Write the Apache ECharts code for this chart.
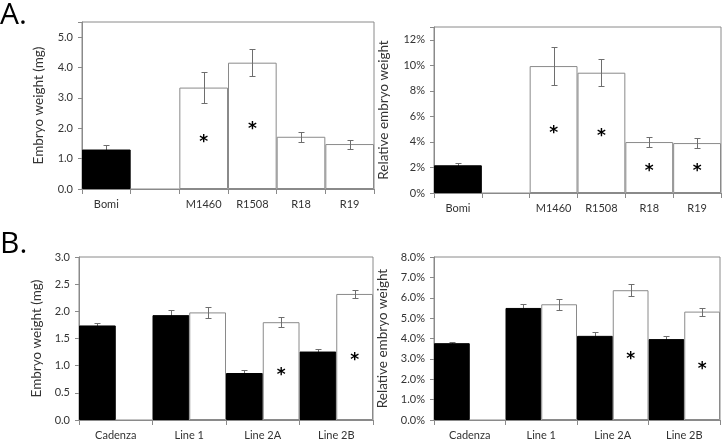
<!DOCTYPE html>
<html>
<head>
<meta charset="utf-8">
<script src="https://cdn.jsdelivr.net/npm/echarts@6/dist/echarts.min.js"></script>
<style>html,body{margin:0;padding:0;background:#fff}#c{width:723px;height:441px}</style>
</head>
<body>
<div id="c"></div>
<script>
// ---- Panel A data ----
const catsA = ['Bomi', '', 'M1460', 'R1508', 'R18', 'R19'];
const weightCtrlA = [1.30, null, null, null, null, null];
const weightCtrlErrA = [0.15, null, null, null, null, null];
const weightLineA = [null, null, 3.34, 4.16, 1.72, 1.48];
const weightLineErrA = [null, null, 0.52, 0.44, 0.17, 0.15];
const weightSigA = [false, false, true, true, false, false];
const weightTicksA = {min: 0, max: 5.5, interval: 1, decimals: 1, suffix: ''};

const relCtrlA = [2.17, null, null, null, null, null];
const relCtrlErrA = [0.20, null, null, null, null, null];
const relLineA = [null, null, 9.94, 9.42, 3.99, 3.91];
const relLineErrA = [null, null, 1.47, 1.07, 0.42, 0.39];
const relSigA = [false, false, true, true, true, true];
const relTicksA = {min: 0, max: 13, interval: 2, decimals: 0, suffix: '%'};

// ---- Panel B data ----
const catsB = ['Cadenza', 'Line 1', 'Line 2A', 'Line 2B'];
const weightNullB = [1.74, 1.93, 0.865, 1.26];
const weightNullErrB = [0.05, 0.10, 0.055, 0.05];
const weightTransB = [null, 1.98, 1.80, 2.32];
const weightTransErrB = [null, 0.10, 0.09, 0.08];
const weightSigB = [false, false, true, true];
const weightTicksB = {min: 0, max: 3, interval: 0.5, decimals: 1, suffix: ''};

const relNullB = [3.77, 5.50, 4.13, 3.97];
const relNullErrB = [0.08, 0.20, 0.17, 0.16];
const relTransB = [null, 5.68, 6.37, 5.32];
const relTransErrB = [null, 0.28, 0.29, 0.20];
const relSigB = [false, false, true, true];
const relTicksB = {min: 0, max: 8, interval: 1, decimals: 1, suffix: '%'};

const yNames = ['Embryo weight (mg)', 'Relative embryo weight', 'Embryo weight (mg)', 'Relative embryo weight'];
const panelLabels = ['A.', 'B.'];

// ---- styling ----
const FONT = 'Lato';
const GRAY = '#8a8a8a';
const TXT = '#333';

const grids = [
  {left: 82, top: 22, width: 292, height: 167},
  {left: 434, top: 27, width: 287, height: 166},
  {left: 79, top: 257, width: 294, height: 163},
  {left: 434, top: 257, width: 286, height: 164}
].map(g => Object.assign({show: true, borderColor: GRAY, borderWidth: 1, backgroundColor: 'transparent'}, g));

const nameGaps = [36, 43, 35, 44];

function xAxis(i, cats) {
  return {
    type: 'category', gridIndex: i, data: cats,
    axisLine: {lineStyle: {color: GRAY}},
    axisTick: {show: true, length: 5, lineStyle: {color: GRAY}},
    axisLabel: {color: TXT, fontFamily: FONT, fontSize: 11, margin: 10, interval: 0}
  };
}
function yAxis(i, t) {
  return {
    type: 'value', gridIndex: i, min: t.min, max: t.max, interval: t.interval,
    name: yNames[i], nameLocation: 'middle', nameGap: nameGaps[i],
    nameTextStyle: {color: TXT, fontFamily: FONT, fontSize: 13.5},
    axisLine: {show: true, lineStyle: {color: GRAY}},
    axisTick: {show: true, length: 4, lineStyle: {color: GRAY}},
    splitLine: {show: false},
    axisLabel: {
      color: TXT, fontFamily: FONT, fontSize: 11, margin: 9,
      formatter: v => (Math.abs(v / t.interval - Math.round(v / t.interval)) > 1e-6) ? '' : v.toFixed(t.decimals) + t.suffix
    }
  };
}

function barSeries(i, data, black, sig, gapMode) {
  return {
    type: 'bar', xAxisIndex: i, yAxisIndex: i, data: data, z: 2,
    barGap: gapMode === 'overlap' ? '-100%' : '0%', barCategoryGap: '0%',
    itemStyle: black ? {color: '#000', borderColor: '#000', borderWidth: 1}
                     : {color: '#fff', borderColor: GRAY, borderWidth: 1},
    label: sig ? {
      show: true, position: 'inside', color: '#000', fontFamily: 'DejaVu Sans', fontWeight: 'bold', fontSize: 17,
      offset: [0, 4], formatter: p => sig[p.dataIndex] ? '*' : ''
    } : {show: false},
    animation: false
  };
}

function errSeries(i, vals, errs, offsetFrac, z) {
  const data = [];
  vals.forEach((v, k) => { if (v != null && errs[k] != null) data.push([k, v, errs[k]]); });
  return {
    type: 'custom', xAxisIndex: i, yAxisIndex: i, z: z, data: data, animation: false, silent: true,
    renderItem: function (params, api) {
      const x = api.value(0), v = api.value(1), e = api.value(2);
      const band = api.size([1, 0])[0];
      const hi = api.coord([x, v + e]);
      const lo = api.coord([x, v - e]);
      const cx = Math.round(hi[0] + offsetFrac * band) + 0.5;
      const y1 = Math.round(hi[1]) + 0.5, y2 = Math.round(lo[1]) + 0.5;
      const cap = 3;
      const st = {stroke: '#6e6e6e', lineWidth: 1, fill: null};
      return {type: 'group', children: [
        {type: 'line', shape: {x1: cx, y1: y1, x2: cx, y2: y2}, style: st},
        {type: 'line', shape: {x1: cx - cap, y1: y1, x2: cx + cap, y2: y1}, style: st},
        {type: 'line', shape: {x1: cx - cap, y1: y2, x2: cx + cap, y2: y2}, style: st}
      ]};
    }
  };
}

const option = {
  animation: false,
  backgroundColor: '#fff',
  grid: grids,
  xAxis: [xAxis(0, catsA), xAxis(1, catsA), xAxis(2, catsB), xAxis(3, catsB)],
  yAxis: [yAxis(0, weightTicksA), yAxis(1, relTicksA), yAxis(2, weightTicksB), yAxis(3, relTicksB)],
  series: [
    barSeries(0, weightCtrlA, true, null, 'overlap'),
    barSeries(0, weightLineA, false, weightSigA, 'overlap'),
    errSeries(0, weightCtrlA, weightCtrlErrA, 0, 1),
    errSeries(0, weightLineA, weightLineErrA, 0, 3),

    barSeries(1, relCtrlA, true, null, 'overlap'),
    barSeries(1, relLineA, false, relSigA, 'overlap'),
    errSeries(1, relCtrlA, relCtrlErrA, 0, 1),
    errSeries(1, relLineA, relLineErrA, 0, 3),

    barSeries(2, weightNullB, true, null, 'side'),
    barSeries(2, weightTransB, false, weightSigB, 'side'),
    errSeries(2, weightNullB, weightNullErrB, -0.25, 1),
    errSeries(2, weightTransB, weightTransErrB, 0.25, 3),

    barSeries(3, relNullB, true, null, 'side'),
    barSeries(3, relTransB, false, relSigB, 'side'),
    errSeries(3, relNullB, relNullErrB, -0.25, 1),
    errSeries(3, relTransB, relTransErrB, 0.25, 3)
  ],
  graphic: [
    {type: 'text', left: 0, top: 0, style: {text: panelLabels[0], font: '30px "Open Sans"', fill: '#000'}},
    {type: 'text', left: 0, top: 229, style: {text: panelLabels[1], font: '30px "Open Sans"', fill: '#000'}}
  ]
};

const chart = echarts.init(document.getElementById('c'), null, {renderer: 'canvas'});
chart.setOption(option);
</script>
</body>
</html>
